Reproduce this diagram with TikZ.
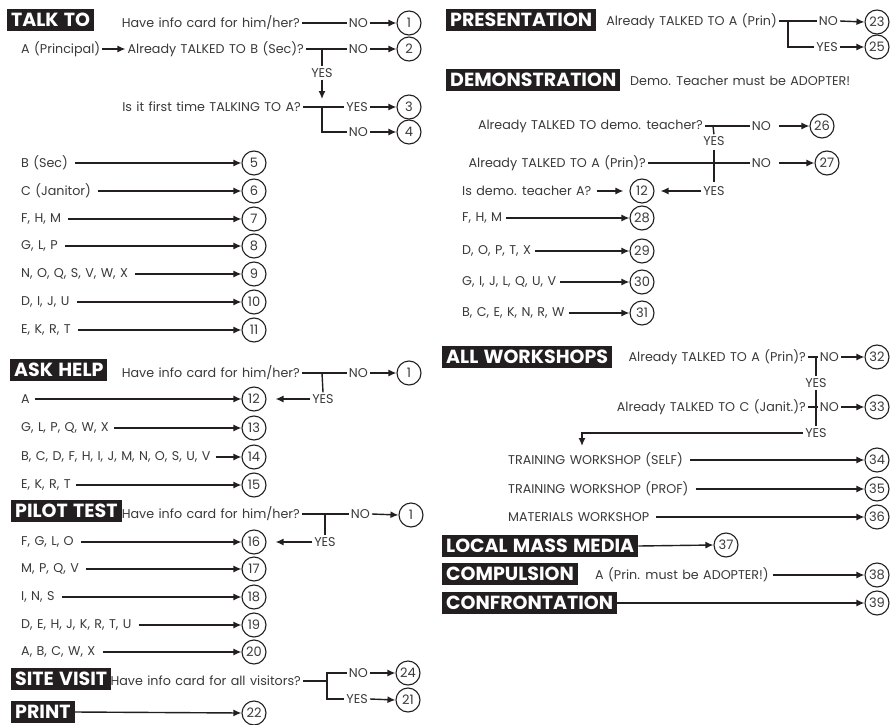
\documentclass[tikz,border=0pt]{standalone}
\usepackage{fontspec}
\setmainfont[WordSpace=1.3]{Poppins}
\usepackage{xcolor}
\usetikzlibrary{arrows.meta}

\definecolor{ink}{HTML}{3A3A3A}
\definecolor{headbg}{HTML}{231F20}

\tikzset{
  head/.style={fill=headbg, text=white, anchor=west, inner xsep=4pt, inner ysep=0pt,
    minimum height=22pt, font=\bfseries\fontsize{19}{19}\selectfont},
  txt/.style={text=ink, inner sep=2pt, font=\fontsize{12.7}{14}\selectfont},
  num/.style={circle, draw=headbg, line width=1.1pt, minimum size=24pt, inner sep=0pt,
    text=ink, font=\fontsize{13}{13}\selectfont},
  arr/.style={draw=headbg, line width=1.4pt, -{Latex[length=8pt,width=7pt]}},
  ln/.style={draw=headbg, line width=1.4pt},
}

\begin{document}
\begin{tikzpicture}[x=1pt, y=-1pt]
  \useasboundingbox[fill=white] (0,0) rectangle (894,725);

  % TALK TO
  \node[head] (talk) at (7,20) {TALK TO};
  \node[txt, anchor=east] (tq1) at (302,23) {Have info card for him/her?};
  \node[txt, anchor=east] (tno1) at (370,23) {NO};
  \node[num] (t1) at (409,23) {1};
  \draw[ln] (tq1.east) -- (tno1.west);
  \draw[arr] (tno1.east) -- (t1.west);

  \node[txt, anchor=west] (tprin) at (19,49) {A (Principal)};
  \node[txt, anchor=east] (tq2) at (306,49) {Already TALKED TO B (Sec)?};
  \node[txt, anchor=east] (tno2) at (370,49) {NO};
  \node[num] (t2) at (409,49) {2};
  \draw[arr] (tprin.east) -- (tq2.west);
  \draw[ln] (tq2.east) -- (tno2.west);
  \draw[arr] (tno2.east) -- (t2.west);
  \coordinate (tj2) at (322,49);
  \node[txt] (tyes2) at (322,73) {YES};
  \draw[ln] (tj2) -- (tyes2.north);

  \node[txt, anchor=east] (tq3) at (303,107) {Is it first time TALKING TO A?};
  \node[txt, anchor=east] (tyes3) at (370,107) {YES};
  \node[num] (t3) at (409,107) {3};
  \coordinate (tj3) at (322,107);
  \coordinate (tj4) at (322,132);
  \node[txt, anchor=east] (tno4) at (370,132) {NO};
  \node[num] (t4) at (409,132) {4};
  \draw[arr, shorten >=8pt] (tyes2.south) -- (tj3);
  \draw[ln] (tq3.east) -- (tyes3.west);
  \draw[arr] (tyes3.east) -- (t3.west);
  \draw[ln] (tj3) -- (tj4) -- (tno4.west);
  \draw[arr] (tno4.east) -- (t4.west);

  \foreach \lab/\n/\y in {{B (Sec)}/5/163, {C (Janitor)}/6/191, {F, H, M}/7/219,
      {G, L, P}/8/246, {N, O, Q, S, V, W, X}/9/274, {D, I, J, U}/10/302, {E, K, R, T}/11/330}{
    \node[txt, anchor=west] (tl\n) at (19,\y) {\lab};
    \node[num] (t\n) at (254,\y) {\n};
    \draw[arr, shorten <=5pt] (tl\n.east) -- (t\n.west);
  }

  % ASK HELP
  \node[head] (ask) at (10,370) {ASK HELP};
  \node[txt, anchor=east] (aq) at (302,373) {Have info card for him/her?};
  \node[txt, anchor=east] (ano) at (370,373) {NO};
  \node[num] (a1) at (409,373) {1};
  \coordinate (aj) at (322,373);
  \node[txt] (ayes) at (323,399) {YES};
  \draw[ln] (aq.east) -- (ano.west);
  \draw[arr] (ano.east) -- (a1.west);
  \draw[ln] (aj) -- (ayes.north);

  \foreach \lab/\n/\y in {A/12/399, {G, L, P, Q, W, X}/13/428,
      {B, C, D, F, H, I, J, M, N, O, S, U, V}/14/457, {E, K, R, T}/15/485}{
    \node[txt, anchor=west] (al\n) at (19,\y) {\lab};
    \node[num] (a\n) at (254,\y) {\n};
    \draw[arr, shorten <=3pt] (al\n.east) -- (a\n.west);
  }
  \draw[arr, shorten >=9pt] (ayes.west) -- (a12.east);

  % PILOT TEST
  \node[head] (pilot) at (11,511) {PILOT TEST};
  \node[txt, anchor=east] (pq) at (302,514) {Have info card for him/her?};
  \node[txt, anchor=east] (pno) at (372,514) {NO};
  \node[num] (p1) at (411,515) {1};
  \coordinate (pj) at (325,514);
  \node[txt] (pyes) at (325,542) {YES};
  \draw[ln] (pq.east) -- (pno.west);
  \draw[arr] (pno.east) -- (p1.west);
  \draw[ln] (pj) -- (pyes.north);

  \foreach \lab/\n/\y in {{F, G, L, O}/16/542, {M, P, Q, V}/17/569, {I, N, S}/18/597,
      {D, E, H, J, K, R, T, U}/19/625, {A, B, C, W, X}/20/652}{
    \node[txt, anchor=west] (pl\n) at (19,\y) {\lab};
    \node[num] (p\n) at (254,\y) {\n};
    \draw[arr, shorten <=5pt] (pl\n.east) -- (p\n.west);
  }
  \draw[arr, shorten >=9pt] (pyes.west) -- (p16.east);

  % SITE VISIT
  \node[head] (site) at (11,679) {SITE VISIT};
  \node[txt, anchor=east] (sq) at (303,681) {Have info card for all visitors?};
  \coordinate (sj) at (327,681);
  \coordinate (sjn) at (327,673);
  \coordinate (sjy) at (327,699);
  \node[txt, anchor=east] (sno) at (370,673) {NO};
  \node[txt, anchor=east] (syes) at (370,699) {YES};
  \node[num] (s24) at (408,673) {24};
  \node[num] (s21) at (408,700) {21};
  \draw[ln] (sq.east) -- (sj);
  \draw[ln] (sno.west) -| (sjn) -- (sjy) -- (syes.west);
  \draw[arr] (sno.east) -- (s24.west);
  \draw[arr] (syes.east) -- (s21.west);

  % PRINT
  \node[head] (print) at (11,712) {PRINT};
  \node[num] (r22) at (254,713) {22};
  \draw[arr] (print.east) -- (r22.west);

  % PRESENTATION
  \node[head] (pres) at (446,20) {PRESENTATION};
  \node[txt, anchor=east] (eq) at (779,21) {Already TALKED TO A (Prin)};
  \node[txt, anchor=east] (eno) at (840,21) {NO};
  \node[txt, anchor=east] (eyes) at (840,47) {YES};
  \node[num] (e23) at (877,22) {23};
  \node[num] (e25) at (877,47) {25};
  \coordinate (ej) at (788,21);
  \coordinate (ejy) at (788,47);
  \draw[ln] (eq.east) -- (eno.west);
  \draw[ln] (ej) -- (ejy) -- (eyes.west);
  \draw[arr] (eno.east) -- (e23.west);
  \draw[arr] (eyes.east) -- (e25.west);

  % DEMONSTRATION
  \node[head] (demo) at (446,80) {DEMONSTRATION};
  \node[txt, anchor=west] (dnote) at (628,81) {Demo. Teacher must be ADOPTER!};

  \node[txt, anchor=east] (dq1) at (705,126) {Already TALKED TO demo. teacher?};
  \node[txt, anchor=east] (dno1) at (773,126) {NO};
  \node[num] (d26) at (822,126) {26};
  \coordinate (dj1) at (713,126);
  \node[txt] (dyes1) at (714,141) {YES};
  \draw[ln] (dq1.east) -- (dno1.west);
  \draw[arr, shorten <=6pt] (dno1.east) -- (d26.west);
  \draw[ln] (dj1) -- (dyes1.north);

  \node[txt, anchor=east] (dq2) at (648,163) {Already TALKED TO A (Prin)?};
  \node[txt, anchor=east] (dno2) at (773,163) {NO};
  \node[num] (d27) at (827,163) {27};
  \node[txt] (dyes2) at (714,191) {YES};
  \draw[ln] (dq2.east) -- (dno2.west);
  \draw[arr, shorten <=6pt] (dno2.east) -- (d27.west);
  \draw[ln, shorten <=2pt, shorten >=2pt] (dyes1.south) -- (dyes2.north);

  \node[txt, anchor=west] (dl12) at (460,191) {Is demo. teacher A?};
  \node[num] (d12) at (642,191) {12};
  \draw[arr, shorten <=3pt, shorten >=6pt] (dl12.east) -- (d12.west);
  \draw[arr, shorten >=6pt] (dyes2.west) -- (d12.east);

  \foreach \lab/\n/\y in {{F, H, M}/28/218, {D, O, P, T, X}/29/251,
      {G, I, J, L, Q, U, V}/30/282, {B, C, E, K, N, R, W}/31/313}{
    \node[txt, anchor=west] (dl\n) at (460,\y) {\lab};
    \node[num] (d\n) at (642,\y) {\n};
    \draw[arr, shorten <=2pt] (dl\n.east) -- (d\n.west);
  }

  % ALL WORKSHOPS
  \node[head] (work) at (442,357) {ALL WORKSHOPS};
  \node[txt, anchor=east] (wq1) at (808,357) {Already TALKED TO A (Prin)?};
  \node[txt, anchor=east] (wno1) at (841,357) {NO};
  \node[num] (w32) at (877,357) {32};
  \coordinate (wj1) at (816,357);
  \node[txt] (wyes1) at (816,383) {YES};
  \draw[ln] (wq1.east) -- (wno1.west);
  \draw[arr] (wno1.east) -- (w32.west);
  \draw[ln] (wj1) -- (wyes1.north);

  \node[txt, anchor=east] (wq2) at (808,407) {Already TALKED TO C (Janit.)?};
  \node[txt, anchor=east] (wno2) at (841,407) {NO};
  \node[num] (w33) at (877,407) {33};
  \node[txt] (wyes2) at (816,433) {YES};
  \draw[ln] (wq2.east) -- (wno2.west);
  \draw[arr] (wno2.east) -- (w33.west);
  \draw[ln] (wyes1.south) -- (wyes2.north);
  \coordinate (wdrop) at (582,446);
  \draw[arr] (wyes2.west) -| (wdrop);

  \foreach \lab/\n/\y in {{TRAINING WORKSHOP (SELF)}/34/460,
      {TRAINING WORKSHOP (PROF)}/35/489, {MATERIALS WORKSHOP}/36/517}{
    \node[txt, anchor=west] (wl\n) at (506,\y) {\lab};
    \node[num] (w\n) at (877,\y) {\n};
    \draw[arr, shorten <=5pt] (wl\n.east) -- (w\n.west);
  }

  % LOCAL MASS MEDIA, COMPULSION, CONFRONTATION
  \node[head] (media) at (442,546) {LOCAL MASS MEDIA};
  \node[num] (m37) at (726,545) {37};
  \draw[arr] (media.east) -- (m37.west);

  \node[head] (comp) at (442,574) {COMPULSION};
  \node[txt, anchor=west] (cprin) at (593,575) {A (Prin. must be ADOPTER!)};
  \node[num] (c38) at (877,575) {38};
  \draw[arr, shorten <=2pt] (cprin.east) -- (c38.west);

  \node[head] (conf) at (442,603) {CONFRONTATION};
  \node[num] (f39) at (877,603) {39};
  \draw[arr] (conf.east) -- (f39.west);
\end{tikzpicture}
\end{document}
